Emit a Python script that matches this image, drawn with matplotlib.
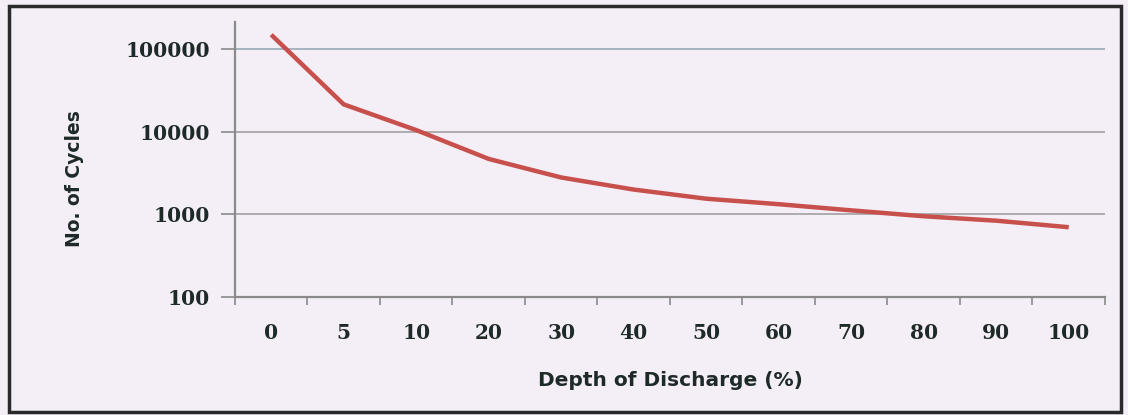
import numpy as np
import matplotlib.pyplot as plt
from matplotlib.patches import Rectangle
from matplotlib.ticker import FixedLocator, NullFormatter

# depth of discharge categories and cycle life
dod_labels = ["0", "5", "10", "20", "30", "40", "50", "60", "70", "80", "90", "100"]
cycles = [150000, 21500, 10500, 4700, 2800, 2000, 1550, 1330, 1120, 950, 840, 700]
y_ticks = [100, 1000, 10000, 100000]
y_tick_labels = ["100", "1000", "10000", "100000"]

bg = "#f4eef6"
line_col = "#c8504c"

fig = plt.figure(figsize=(11.28, 4.15), dpi=100, facecolor=bg)
ax = fig.add_axes([0.2083, 0.2843, 0.7713, 0.6627], facecolor=bg)

x = np.arange(len(dod_labels))
ax.plot(x, cycles, color=line_col, lw=3.2, solid_capstyle="butt", zorder=3)

ax.set_yscale("log")
ax.set_ylim(100, 10 ** 5.33)
ax.set_xlim(-0.5, len(dod_labels) - 0.5)

ax.yaxis.set_major_locator(FixedLocator(y_ticks))
ax.yaxis.set_minor_locator(FixedLocator([]))
ax.set_yticklabels(y_tick_labels, fontfamily="DejaVu Serif", fontweight="bold",
                   fontsize=14.5, color="#1e2a28")
ax.tick_params(axis="y", which="major", length=10, width=1.2, color="#8a8a8a", pad=8)

ax.set_xticks(x)
ax.set_xticklabels(dod_labels, fontfamily="DejaVu Serif", fontweight="bold",
                   fontsize=14.5, color="#1e2a28")
ax.xaxis.set_minor_locator(FixedLocator(np.arange(-0.5, len(dod_labels), 1.0)))
ax.xaxis.set_minor_formatter(NullFormatter())
ax.tick_params(axis="x", which="major", length=0, pad=19)
ax.tick_params(axis="x", which="minor", length=6, width=1.2, color="#8a8a8a")

for v in y_ticks[1:]:
    c = "#8fa4b0" if v == 100000 else "#9a9a9a"
    ax.axhline(v, color=c, lw=1.1, zorder=1)

for s in ["top", "right"]:
    ax.spines[s].set_visible(False)
for s in ["left", "bottom"]:
    ax.spines[s].set_color("#8a8a8a")
    ax.spines[s].set_linewidth(1.6)

ax.set_xlabel("Depth of Discharge (%)", fontfamily="DejaVu Sans", fontweight="bold",
              fontsize=14.5, color="#1e2a28", labelpad=20)
fig.text(0.066, 0.57, "No. of Cycles", rotation=90, ha="center", va="center",
         fontfamily="DejaVu Sans", fontweight="bold", fontsize=13.5, color="#1e2a28")

# dark frame around the chart
fig.patches.append(Rectangle((9 / 1128, 3 / 415), 1112 / 1128, 406 / 415,
                             transform=fig.transFigure, fill=False,
                             edgecolor="#2a2a2a", lw=2.5))

fig.savefig("out.png", dpi=100, facecolor=bg)
